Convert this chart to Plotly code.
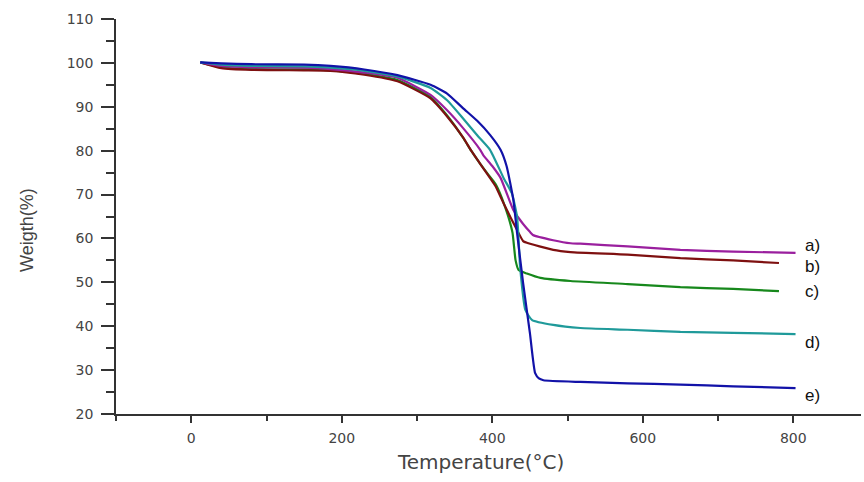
import plotly.graph_objects as go

# ---- data (Temperature °C, Weight %) ----
a_temp = [12, 40, 80, 150, 185, 230, 274, 318, 340, 361, 384, 388, 400, 411, 428, 437, 441, 450, 454, 481, 504, 517, 580, 650, 720, 803]
a_wt   = [100.1, 99.3, 99.0, 98.9, 98.6, 97.8, 96.6, 92.7, 89.2, 85.2, 80.2, 79.0, 76.5, 73.8, 66.5, 64.2, 63.3, 61.5, 60.8, 59.6, 58.9, 58.8, 58.2, 57.4, 57.0, 56.7]

b_temp = [12, 40, 80, 150, 185, 230, 274, 318, 340, 361, 372, 384, 404, 415, 424, 433, 441, 446, 481, 504, 580, 650, 720, 781]
b_wt   = [100.1, 98.8, 98.4, 98.3, 98.2, 97.3, 95.8, 91.9, 87.8, 83.1, 80.0, 77.0, 72.0, 68.0, 64.9, 61.9, 59.4, 59.0, 57.4, 56.9, 56.3, 55.5, 55.0, 54.4]

c_temp = [12, 40, 80, 150, 185, 230, 274, 318, 340, 361, 372, 384, 395, 404, 411, 417, 423, 427, 431, 435, 446, 464, 504, 580, 650, 720, 781]
c_wt   = [100.1, 99.0, 98.6, 98.5, 98.3, 97.5, 96.1, 92.2, 88.0, 83.0, 80.0, 77.0, 74.5, 72.5, 70.0, 67.2, 64.0, 61.2, 55.0, 52.8, 52.0, 51.0, 50.3, 49.6, 48.9, 48.5, 48.0]

d_temp = [12, 40, 80, 150, 185, 230, 274, 318, 340, 361, 380, 397, 415, 426, 433, 437, 444, 453, 481, 517, 580, 650, 720, 803]
d_wt   = [100.1, 99.6, 99.3, 99.2, 98.9, 98.2, 96.9, 94.3, 91.5, 87.4, 83.5, 80.2, 73.8, 70.3, 64.9, 53.5, 43.7, 41.4, 40.3, 39.6, 39.2, 38.7, 38.5, 38.2]

e_temp = [12, 40, 80, 150, 185, 230, 274, 318, 340, 361, 380, 397, 411, 419, 428, 433, 441, 450, 457, 462, 468, 517, 580, 650, 720, 803]
e_wt   = [100.1, 99.9, 99.7, 99.6, 99.3, 98.5, 97.2, 95.0, 93.0, 89.7, 86.8, 83.6, 80.2, 76.5, 68.8, 61.2, 49.8, 38.5, 29.3, 28.1, 27.7, 27.3, 27.0, 26.7, 26.3, 25.9]

series_temp = [a_temp, b_temp, c_temp, d_temp, e_temp]
series_wt = [a_wt, b_wt, c_wt, d_wt, e_wt]
series_colors = ["#9a1f9e", "#7e1010", "#17881c", "#1f9a9a", "#1212a8"]

label_text = ["a)", "b)", "c)", "d)", "e)"]
label_y = [58.5, 53.5, 47.8, 36.4, 24.3]
label_x = 813

x_tickvals = [0, 200, 400, 600, 800]
y_tickvals = [20, 30, 40, 50, 60, 70, 80, 90, 100, 110]

fig = go.Figure()
order = [2, 1, 0, 3, 4]
for i in order:
    fig.add_trace(go.Scatter(
        x=series_temp[i], y=series_wt[i], mode="lines",
        line=dict(color=series_colors[i], width=2.2, shape="spline", smoothing=0.5),
        showlegend=False, hoverinfo="skip"))

for t, y in zip(label_text, label_y):
    fig.add_annotation(x=label_x, y=y, xref="x", yref="y", text=t, showarrow=False,
                       xanchor="left", yanchor="middle",
                       font=dict(family="Liberation Sans", size=17, color="#111"))

fig.add_annotation(x=-0.1195, y=0.466, xref="paper", yref="paper", text="Weigth(%)",
                   textangle=-90, showarrow=False, xanchor="center", yanchor="middle",
                   font=dict(family="Liberation Sans", size=18, color="#444"))
fig.add_annotation(x=0.4886, y=-0.1215, xref="paper", yref="paper", text="Temperature(°C)",
                   showarrow=False, xanchor="center", yanchor="middle",
                   font=dict(family="DejaVu Sans", size=20, color="#444"))

fig.update_xaxes(range=[-100, 890], tickvals=x_tickvals, ticks="outside", ticklen=7,
                 tickwidth=1.5, tickcolor="#333", showline=True, linecolor="#333", linewidth=1.5,
                 showgrid=False, zeroline=False, ticklabelstandoff=3,
                 tickfont=dict(family="DejaVu Sans", size=14, color="#444"),
                 minor=dict(tickvals=[-100, 100, 300, 500, 700], ticks="outside", ticklen=5,
                            tickwidth=1.5, tickcolor="#333", showgrid=False))
fig.update_yaxes(range=[20, 110], tickvals=y_tickvals, ticks="outside", ticklen=13,
                 tickwidth=1.5, tickcolor="#333", showline=True, linecolor="#333", linewidth=1.5,
                 showgrid=False, zeroline=False, ticklabelstandoff=5,
                 tickfont=dict(family="DejaVu Sans", size=14, color="#444"),
                 minor=dict(dtick=5, tick0=25, ticks="outside", ticklen=8,
                            tickwidth=1.5, tickcolor="#333", showgrid=False))

fig.update_layout(width=864, height=482, margin=dict(l=116, r=3, t=19, b=68),
                  plot_bgcolor="white", paper_bgcolor="white")

fig.write_html("out.html", config={"displayModeBar": False},
               post_script="document.body.style.margin='0';")
